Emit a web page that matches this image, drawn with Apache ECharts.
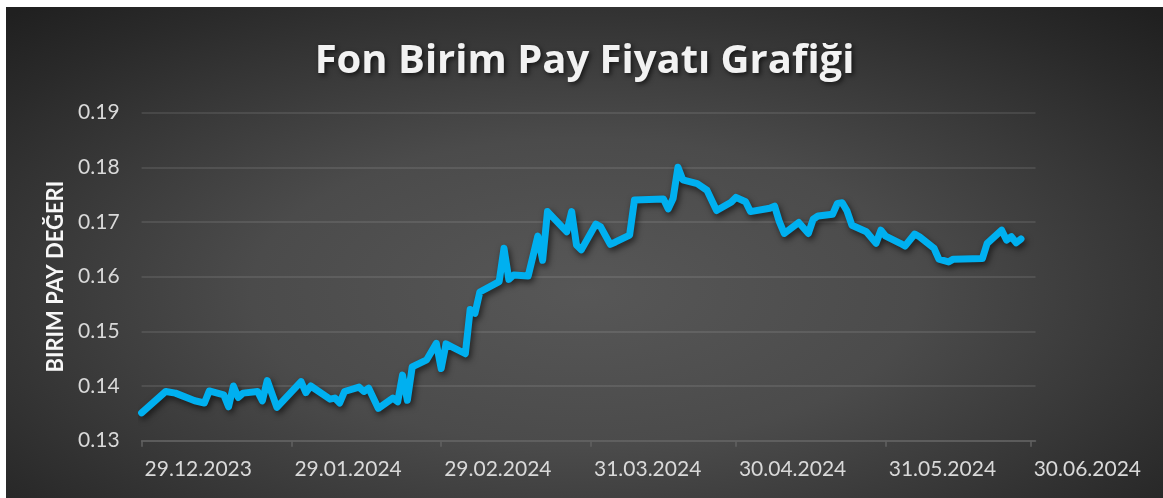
<!DOCTYPE html>
<html>
<head>
<meta charset="utf-8">
<script src="https://cdn.jsdelivr.net/npm/echarts@6/dist/echarts.min.js"></script>
<style>
  html, body { margin: 0; padding: 0; background: #ffffff; }
  #wrap {
    position: absolute; left: 6px; top: 7px; width: 1157px; height: 491px;
    background: radial-gradient(ellipse 72% 78% at 50% 58%, #575757 0%, #4b4b4b 40%, #2a2a2a 85%, #202020 100%);
  }
  #chart { width: 1157px; height: 491px; }
</style>
</head>
<body>
<div id="wrap"><div id="chart"></div></div>
<script>
// ---- data ----
const dates = [
  '2023-12-29','2024-01-03','2024-01-05','2024-01-09','2024-01-11','2024-01-12','2024-01-15','2024-01-16',
  '2024-01-17','2024-01-18','2024-01-19','2024-01-22','2024-01-23','2024-01-24','2024-01-26','2024-01-31',
  '2024-02-01','2024-02-02','2024-02-06','2024-02-07','2024-02-08','2024-02-09','2024-02-12','2024-02-13',
  '2024-02-14','2024-02-16','2024-02-19','2024-02-20','2024-02-21','2024-02-22','2024-02-23','2024-02-26',
  '2024-02-28','2024-02-29','2024-03-01','2024-03-05','2024-03-06','2024-03-07','2024-03-08','2024-03-12',
  '2024-03-13','2024-03-14','2024-03-15','2024-03-18','2024-03-20','2024-03-21','2024-03-22','2024-03-26',
  '2024-03-27','2024-03-28','2024-03-29','2024-04-01','2024-04-02','2024-04-04','2024-04-05','2024-04-08',
  '2024-04-09','2024-04-15','2024-04-16','2024-04-17','2024-04-18','2024-04-19','2024-04-22','2024-04-24',
  '2024-04-26','2024-04-29','2024-04-30','2024-05-02','2024-05-03','2024-05-07','2024-05-08','2024-05-09',
  '2024-05-10','2024-05-13','2024-05-15','2024-05-16','2024-05-17','2024-05-20','2024-05-21','2024-05-22',
  '2024-05-23','2024-05-24','2024-05-27','2024-05-29','2024-05-30','2024-05-31','2024-06-03','2024-06-04',
  '2024-06-06','2024-06-07','2024-06-10','2024-06-11','2024-06-13','2024-06-14','2024-06-20','2024-06-21',
  '2024-06-24','2024-06-25','2024-06-26','2024-06-27','2024-06-28'
];
const prices = [
  0.1351,0.1390,0.1387,0.1373,0.1369,0.1391,0.1384,0.1362,
  0.1400,0.1379,0.1387,0.1390,0.1373,0.1410,0.1361,0.1408,
  0.1388,0.1400,0.1376,0.1378,0.1369,0.1390,0.1398,0.1390,
  0.1396,0.1359,0.1378,0.1371,0.1420,0.1374,0.1435,0.1448,
  0.1478,0.1432,0.1477,0.1459,0.1540,0.1533,0.1572,0.1591,
  0.1652,0.1595,0.1603,0.1601,0.1674,0.1630,0.1719,0.1682,
  0.1719,0.1658,0.1649,0.1696,0.1691,0.1659,0.1663,0.1676,
  0.1740,0.1742,0.1724,0.1743,0.1800,0.1777,0.1770,0.1758,
  0.1721,0.1736,0.1745,0.1737,0.1719,0.1725,0.1729,0.1700,
  0.1679,0.1699,0.1679,0.1705,0.1711,0.1714,0.1734,0.1735,
  0.1720,0.1694,0.1682,0.1661,0.1685,0.1674,0.1661,0.1656,
  0.1678,0.1673,0.1652,0.1632,0.1627,0.1632,0.1633,0.1661,
  0.1685,0.1667,0.1673,0.1662,0.1669
];
const tickDates = ['2023-12-29','2024-01-29','2024-02-29','2024-03-31','2024-04-30','2024-05-31','2024-06-30'];
const axisStart = '2023-12-29';
const axisEnd = '2024-07-01';
const yMin = 0.13, yMax = 0.19, yStep = 0.01;
const titleText = 'Fon Birim Pay Fiyatı Grafiği';
const yAxisName = 'BIRIM PAY DEĞERI';

function toTime(s) {
  const p = s.split('-').map(Number);
  return new Date(p[0], p[1] - 1, p[2]).getTime();
}
function fmtDate(t) {
  const d = new Date(t);
  const dd = String(d.getDate()).padStart(2, '0');
  const mm = String(d.getMonth() + 1).padStart(2, '0');
  return dd + '.' + mm + '.' + d.getFullYear();
}

const seriesData = dates.map((d, i) => [toTime(d), prices[i]]);
const ticks = tickDates.map(toTime);

const chart = echarts.init(document.getElementById('chart'), null, { renderer: 'canvas' });
chart.setOption({
  backgroundColor: 'transparent',
  animation: false,
  title: {
    text: titleText,
    left: 'center',
    top: 30,
    textStyle: {
      fontFamily: 'Open Sans',
      fontWeight: 700,
      fontSize: 40,
      color: '#f2f2f2',
      textShadowColor: 'rgba(0,0,0,0.65)',
      textShadowBlur: 5,
      textShadowOffsetX: 2,
      textShadowOffsetY: 2
    }
  },
  grid: { left: 135.6, right: 127.5, top: 105.6, bottom: 57.3, containLabel: false },
  xAxis: {
    type: 'value',
    min: toTime(axisStart),
    max: toTime(axisEnd),
    axisLine: { show: true, lineStyle: { color: '#626262', width: 1.5 } },
    axisTick: { show: true, length: 6, customValues: ticks, lineStyle: { color: '#626262', width: 1.5 } },
    axisLabel: {
      customValues: ticks,
      formatter: (v) => fmtDate(v),
      color: '#d9d9d9',
      fontFamily: 'Lato',
      fontSize: 21,
      align: 'left',
      margin: 18,
      padding: [0, 0, 0, 3],
      showMinLabel: true,
      showMaxLabel: true,
      hideOverlap: false
    },
    splitLine: { show: false }
  },
  yAxis: {
    type: 'value',
    min: yMin,
    max: yMax,
    interval: yStep,
    name: yAxisName,
    nameLocation: 'middle',
    nameRotate: 90,
    nameGap: 74,
    nameTextStyle: { color: '#f7f7f7', fontFamily: 'Lato', fontWeight: 'bold', fontSize: 22 },
    axisLine: { show: false },
    axisTick: { show: false },
    axisLabel: {
      color: '#d9d9d9', fontFamily: 'Lato', fontSize: 21, margin: 22,
      formatter: (v) => v.toFixed(2)
    },
    splitLine: { show: true, lineStyle: { color: 'rgba(255,255,255,0.13)', width: 1.5 } }
  },
  series: [{
    type: 'line',
    data: seriesData,
    showSymbol: false,
    symbol: 'none',
    lineStyle: {
      color: '#00b0f0', width: 7, cap: 'round', join: 'round',
      shadowColor: 'rgba(0,0,0,0.6)', shadowBlur: 6, shadowOffsetX: 2, shadowOffsetY: 3
    }
  }]
});
</script>
</body>
</html>
